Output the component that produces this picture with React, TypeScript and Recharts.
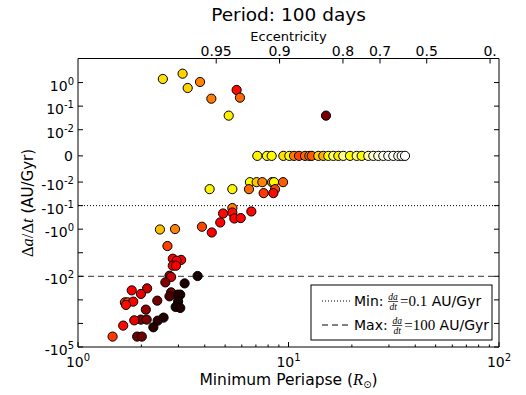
import React from 'react';
import { ScatterChart, Scatter, XAxis, YAxis, ReferenceLine, Customized } from 'recharts';

const W = 526;
const H = 395;
const SANS = '"DejaVu Sans", sans-serif';
const SERIF = '"Liberation Serif", "DejaVu Serif", serif';

// ---- data: minimum periapse (R_sun), da/dt (AU/Gyr), colour value (hot colormap 0..1)
const positiveX = [2.53, 3.14, 3.32, 3.8, 4.3, 5.67, 5.88, 5.2, 15.07];
const positiveRate = [1.42, 2.38, 0.589, 1.06, 0.207, 0.485, 0.229, 0.0395, 0.0395];
const positiveHeat = [0.7, 0.68, 0.68, 0.56, 0.55, 0.38, 0.52, 0.72, 0.16];

const zeroX = [7.11, 7.9, 8.32, 9.45, 10.09, 10.62, 11.22, 11.98, 12.56, 12.89, 13.86, 14.63, 15.46, 16.33,
  17.25, 18.21, 19.6, 21.09, 22.27, 23.94, 25.29, 26.71, 28.21, 29.8, 31.47, 33.24, 34.5, 35.76];
const zeroRate = zeroX.map(() => 0);
const zeroHeat = [0.73, 0.74, 0.74, 0.7, 0.74, 0.55, 0.47, 0.52, 0.55, 0.5, 0.68, 0.62, 0.74, 0.85,
  0.72, 0.88, 0.75, 0.85, 0.74, 0.92, 0.95, 0.97, 0.98, 0.99, 1.0, 0.98, 1.0, 1.0];

const slowX = [6.56, 7.06, 7.51, 8.35, 8.53, 9.42, 4.22, 5.41, 6.49, 8.63, 7.62, 8.47];
const slowRate = [-0.0101, -0.0101, -0.0101, -0.0101, -0.0101, -0.0101, -0.02, -0.02, -0.02, -0.02, -0.0295, -0.0295];
const slowHeat = [0.74, 0.66, 0.56, 0.56, 0.74, 0.5, 0.73, 0.73, 0.52, 0.47, 0.45, 0.38];

const midX = [5.41, 5.41, 4.89, 5.53, 5.93, 6.66, 4.74, 3.88, 4.32, 2.45, 2.89];
const midRate = [-0.127, -0.196, -0.216, -0.352, -0.338, -0.177, -0.519, -0.789, -1.38, -1.03, -0.99];
const midHeat = [0.55, 0.38, 0.38, 0.37, 0.37, 0.37, 0.37, 0.47, 0.36, 0.65, 0.56];

const fastX = [2.66, 2.82, 3.09, 2.94, 2.82, 2.92, 2.72, 2.77, 3.7, 2.6, 3.21, 2.13, 1.8, 2.77, 1.99, 3.06,
  2.98, 2.72, 2.38, 2.99, 1.67, 1.72, 1.83, 1.69, 2.91, 3.06, 2.1, 2.55, 1.99, 2.12, 1.85, 2.39, 1.64, 2.28,
  1.46, 1.91, 2.01];
const fastRate = [-5.19, -17.9, -20.1, -21.8, -35.5, -35.5, -94.2, -107, -97, -181, -200, -325, -395, -480, -561,
  -601, -601, -710, -1079, -1156, -1274, -1274, -1189, -1641, -1995, -2198, -2594, -5662, -6887, -6887, -7380,
  -7603, -12360, -14590, -36140, -36140, -36140];
const fastHeat = [0.46, 0.36, 0.36, 0.36, 0.36, 0.36, 0.2, 0.3, 0.02, 0.18, 0.03, 0.28, 0.36, 0.15, 0.33, 0.04,
  0.04, 0.1, 0.16, 0.03, 0.45, 0.47, 0.36, 0.38, 0.02, 0.03, 0.2, 0.04, 0.17, 0.17, 0.33, 0.05, 0.38, 0.04,
  0.45, 0.15, 0.15];

// ---- axes
const yTickValues = [1, 0.1, 0.01, 0, -0.01, -0.1, -1, -10, -100, -1000, -10000, -100000];
const yTickShown = [true, true, true, true, true, true, true, false, true, false, false, true];
const yLimits = [-100000, 10.5];
const xMajorTicks = [1, 10, 100];
const xMinorTicks = [2, 3, 4, 5, 6, 7, 8, 9, 20, 30, 40, 50, 60, 70, 80, 90];
const eccTicks = [0.95, 0.9, 0.8, 0.7, 0.5, 0];
const eccLabels = ['0.95', '0.9', '0.8', '0.7', '0.5', '0.'];
const semiMajorRsun = 90.7;
const minRate = -0.1;
const maxRate = -100;

// matplotlib-like symlog (linthresh 0.01, linscale 1)
const LINTHRESH = 0.01;
const LINSCALE = 1 / (1 - 1 / 10);
function symlog(v: number): number {
  const a = Math.abs(v);
  if (a <= LINTHRESH) return (v / LINTHRESH) * LINSCALE;
  return Math.sign(v) * (LINSCALE + Math.log10(a / LINTHRESH));
}

function hot(c: number): string {
  const cl = (v: number) => Math.max(0, Math.min(1, v));
  const r = cl(0.0416 + (c / 0.365079) * (1 - 0.0416));
  const g = cl((c - 0.365079) / (0.746032 - 0.365079));
  const b = cl((c - 0.746032) / (1 - 0.746032));
  const h = (v: number) => Math.round(v * 255);
  return `rgb(${h(r)},${h(g)},${h(b)})`;
}

type P = { x: number; y: number; c: number };
const groups: [number[], number[], number[]][] = [
  [positiveX, positiveRate, positiveHeat],
  [zeroX, zeroRate, zeroHeat],
  [slowX, slowRate, slowHeat],
  [midX, midRate, midHeat],
  [fastX, fastRate, fastHeat],
];
const points: P[] = [];
groups.forEach(([xs, rs, hs]) => xs.forEach((x, i) => points.push({ x, y: symlog(rs[i]), c: hs[i] })));

const yTicksT = yTickValues.map(symlog);
const yDomain = [symlog(yLimits[0]), symlog(yLimits[1])];
const xTicks = [...xMajorTicks, ...xMinorTicks].sort((a, b) => a - b);
const eccPos = eccTicks.map((e) => semiMajorRsun * (1 - e));
// invisible anchor points so the top (eccentricity) axis has data of its own
const eccAnchors = eccPos.map((x) => ({ x, y: 0 }));

function nearestIndex(arr: number[], v: number) {
  let best = 0;
  arr.forEach((a, i) => {
    if (Math.abs(a - v) < Math.abs(arr[best] - v)) best = i;
  });
  return best;
}

function Pow({ sign, exp, x, y, anchor }: { sign: string; exp: string; x: number; y: number; anchor: string }) {
  return (
    <text x={x} y={y} textAnchor={anchor as any} fontSize={14} fontFamily={SANS} fill="#000">
      {sign}10
      <tspan dy={-6} fontSize={10}>{exp}</tspan>
    </text>
  );
}

const XBottomTick = (props: any) => {
  const { x, y, payload } = props;
  const v = payload.value;
  const lg = Math.log10(v);
  const major = Math.abs(lg - Math.round(lg)) < 1e-6;
  return (
    <g>
      <line x1={x} x2={x} y1={y} y2={y - (major ? 5 : 2.5)} stroke="#000" strokeWidth={1} />
      {major && <Pow sign="" exp={String(Math.round(lg))} x={x} y={y + 20} anchor="middle" />}
    </g>
  );
};

const XTopTick = (props: any) => {
  const { x, y, payload } = props;
  const i = nearestIndex(eccPos, payload.value);
  return (
    <g>
      <line x1={x} x2={x} y1={y} y2={y + 5} stroke="#000" strokeWidth={1} />
      <text x={x} y={y - 3} textAnchor="middle" fontSize={14} fontFamily={SANS} fill="#000">
        {eccLabels[i]}
      </text>
    </g>
  );
};

const YLeftTick = (props: any) => {
  const { x, y, payload } = props;
  const i = nearestIndex(yTicksT, payload.value);
  const v = yTickValues[i];
  let label: React.ReactNode = null;
  if (yTickShown[i]) {
    if (v === 0) {
      label = (
        <text x={x - 5} y={y + 5} textAnchor="end" fontSize={14} fontFamily={SANS} fill="#000">0</text>
      );
    } else {
      label = (
        <Pow sign={v < 0 ? '-' : ''} exp={String(Math.round(Math.log10(Math.abs(v))))} x={x - 4} y={y + 8} anchor="end" />
      );
    }
  }
  return (
    <g>
      <line x1={x} x2={x + 5} y1={y} y2={y} stroke="#000" strokeWidth={1} />
      {label}
    </g>
  );
};

const YRightTick = (props: any) => {
  const { x, y } = props;
  return <line x1={x} x2={x - 5} y1={y} y2={y} stroke="#000" strokeWidth={1} />;
};

const renderDot = (props: any) => {
  const { cx, cy, payload } = props;
  if (cx == null || cy == null) return <g />;
  return <circle cx={cx} cy={cy} r={4.6} fill={hot(payload.c)} stroke="#000" strokeWidth={1} />;
};

const renderNothing = () => <g />;

const LegendRow = ({ y, dash, name, nameW, value }: { y: number; dash: string; name: string; nameW: number; value: string }) => {
  const fx = 354 + nameW + 4.5; // left edge of the fraction
  return (
    <g>
      <line x1={322} x2={350} y1={y} y2={y} stroke="#000" strokeWidth={1} strokeDasharray={dash} />
      <text x={354} y={y + 5} fontSize={14} fontFamily={SANS} fill="#000">{name}</text>
      <text x={fx + 5} y={y - 1.5} textAnchor="middle" fontSize={9.5} fontFamily={SERIF} fontStyle="italic" fill="#000">da</text>
      <line x1={fx} x2={fx + 10} y1={y + 0.5} y2={y + 0.5} stroke="#000" strokeWidth={0.7} />
      <text x={fx + 5} y={y + 8.5} textAnchor="middle" fontSize={9.5} fontFamily={SERIF} fontStyle="italic" fill="#000">dt</text>
      <text x={fx + 12} y={y + 5} fontSize={15} fontFamily={SERIF} fill="#000">
        {'=' + value}
        <tspan fontSize={14} fontFamily={SANS}>{' AU/Gyr'}</tspan>
      </text>
    </g>
  );
};

const Overlay = () => (
  <g>
    <text x={288.5} y={20.5} textAnchor="middle" fontSize={18.5} fontFamily={SANS} fill="#000">Period: 100 days</text>
    <text x={288.5} y={40.5} textAnchor="middle" fontSize={13} fontFamily={SANS} fill="#000">Eccentricity</text>
    <text x={288.5} y={385} textAnchor="middle" fontSize={15.5} fontFamily={SANS} fill="#000">
      {'Minimum Periapse ('}
      <tspan fontFamily={SERIF} fontStyle="italic" fontSize={16.5}>R</tspan>
      <tspan dy={3} fontSize={10}>⊙</tspan>
      <tspan dy={-3}>)</tspan>
    </text>
    <text transform="translate(33,203) rotate(-90)" textAnchor="middle" fontSize={15} fontFamily={SANS} fill="#000">
      <tspan fontFamily={SERIF} fontSize={16.5}>Δ</tspan>
      <tspan fontFamily={SERIF} fontStyle="italic" fontSize={16.5}>a</tspan>
      <tspan fontFamily={SERIF} fontSize={16.5}>/Δ</tspan>
      <tspan fontFamily={SERIF} fontStyle="italic" fontSize={16.5}>t</tspan>
      {' (AU/Gyr)'}
    </text>
    <rect x={311} y={285} width={181} height={55} fill="#fff" stroke="#000" strokeWidth={1} />
    <LegendRow y={301} dash="1 2" name="Min:" nameW={29.6} value={String(Math.abs(minRate))} />
    <LegendRow y={325} dash="6 4" name="Max:" nameW={33.7} value={String(Math.abs(maxRate))} />
  </g>
);

export default function App() {
  return (
    <div style={{ position: 'absolute', left: 0, top: 0, width: W, height: H, background: '#fff' }}>
      <ScatterChart width={W} height={H} margin={{ top: 0, right: 0, bottom: 0, left: 0 }}>
        <XAxis
          xAxisId="bottom"
          dataKey="x"
          type="number"
          scale="log"
          domain={[1, 100]}
          allowDataOverflow
          ticks={xTicks}
          interval={0}
          height={48}
          tickSize={0}
          tickMargin={0}
          tickLine={false}
          tick={(p: any) => <XBottomTick {...p} />}
          axisLine={{ stroke: '#000', strokeWidth: 1 }}
        />
        <XAxis
          xAxisId="top"
          dataKey="x"
          orientation="top"
          type="number"
          scale="log"
          domain={[1, 100]}
          allowDataOverflow
          ticks={eccPos}
          interval={0}
          height={58.5}
          tickSize={0}
          tickMargin={0}
          tickLine={false}
          tick={(p: any) => <XTopTick {...p} />}
          axisLine={{ stroke: '#000', strokeWidth: 1 }}
        />
        <YAxis
          yAxisId="left"
          dataKey="y"
          type="number"
          domain={yDomain}
          allowDataOverflow
          ticks={yTicksT}
          interval={0}
          width={78}
          tickSize={0}
          tickMargin={0}
          tickLine={false}
          tick={(p: any) => <YLeftTick {...p} />}
          axisLine={{ stroke: '#000', strokeWidth: 1 }}
        />
        <YAxis
          yAxisId="right"
          dataKey="y"
          orientation="right"
          type="number"
          domain={yDomain}
          allowDataOverflow
          ticks={yTicksT}
          interval={0}
          width={27}
          tickSize={0}
          tickMargin={0}
          tickLine={false}
          tick={(p: any) => <YRightTick {...p} />}
          axisLine={{ stroke: '#000', strokeWidth: 1 }}
        />
        <ReferenceLine xAxisId="bottom" yAxisId="left" y={symlog(minRate)} stroke="#000" strokeWidth={1} strokeDasharray="1 2" />
        <ReferenceLine xAxisId="bottom" yAxisId="left" y={symlog(maxRate)} stroke="#333" strokeWidth={1} strokeDasharray="6 4" />
        <Scatter xAxisId="top" yAxisId="right" data={eccAnchors} shape={renderNothing} isAnimationActive={false} />
        <Scatter xAxisId="bottom" yAxisId="left" data={points} shape={renderDot} isAnimationActive={false} />
        <Customized component={Overlay} />
      </ScatterChart>
    </div>
  );
}
